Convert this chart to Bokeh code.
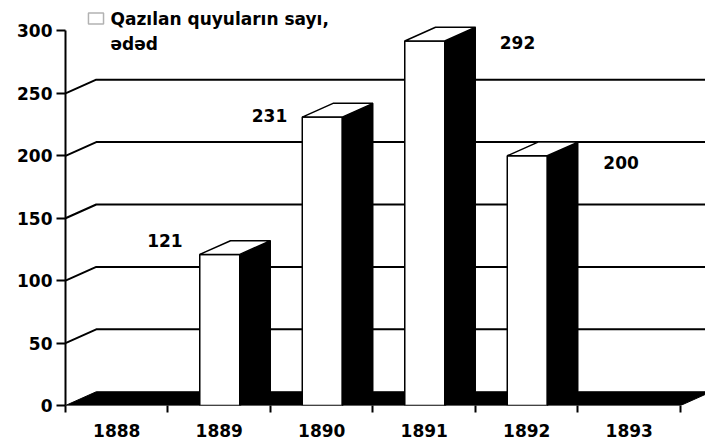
from bokeh.plotting import figure
from bokeh.models import Range1d, FixedTicker, Label, BoxAnnotation, ColumnDataSource
from bokeh.core.properties import value
from bokeh.embed import file_html
from bokeh.resources import INLINE

# ---- data ----
years = ["1888", "1889", "1890", "1891", "1892", "1893"]
wells = [0, 121, 231, 292, 200, 0]
y_ticks = [0, 50, 100, 150, 200, 250, 300]
legend_text = "Qazılan quyuların sayı,\nədəd"

# ---- style / geometry constants ----
FONT = "DejaVu Sans"
FS = "17px"
BAR_L, BAR_R = 0.31, 0.70      # front face inside each category slot
DX, DZ = 0.30, 11.0            # 3-D depth offset (x in categories, y in value units)
label_off = {1: (-0.03, 11), 2: (-0.01, 1), 3: (1.41, -1), 4: (1.42, -5)}

n = len(years)
p = figure(width=705, height=439, output_backend="svg", toolbar_location=None,
           x_range=Range1d(0, 6.244), y_range=Range1d(0, 324.4),
           min_border_left=65, min_border_right=0, min_border_top=0,
           min_border_bottom=27)
p.outline_line_color = None
p.xgrid.visible = False
p.ygrid.visible = False
p.background_fill_color = "white"

# floor
p.patch([0, n, n + DX, DX], [0, 0, DZ, DZ], fill_color="black", line_color="black")

# back-wall gridlines
grid_vals = [v for v in y_ticks if 0 < v < max(y_ticks)]
p.multi_line(xs=[[0, DX, n + 1] for v in grid_vals],
             ys=[[v, v + DZ, v + DZ] for v in grid_vals],
             line_color="black", line_width=2)

# bars
idx = [i for i, v in enumerate(wells) if v > 0]
vals = [wells[i] for i in idx]
fl = [i + BAR_L for i in idx]
fr = [i + BAR_R for i in idx]
p.quad(left=fl, right=fr, bottom=[0] * len(idx), top=vals,
       fill_color="white", line_color="black", line_width=1.5)
p.patches(xs=[[r, r + DX, r + DX, r] for r in fr],
          ys=[[0, DZ, v + DZ, v] for v in vals],
          fill_color="black", line_color="black", line_width=1)
p.patches(xs=[[l, r, r + DX, l + DX] for l, r in zip(fl, fr)],
          ys=[[v, v, v + DZ, v + DZ] for v in vals],
          fill_color="white", line_color="black", line_width=1.5)

# value labels
src = ColumnDataSource(dict(
    x=[i + label_off[i][0] for i in idx],
    y=[wells[i] + label_off[i][1] for i in idx],
    t=[str(wells[i]) for i in idx]))
p.text(x="x", y="y", text="t", source=src, text_align="center",
       text_baseline="middle", text_font=value(FONT), text_font_style="bold",
       text_font_size=FS, text_color="black")

# y axis
ya = p.yaxis[0]
ya.ticker = FixedTicker(ticks=y_ticks)
ya.bounds = (0, max(y_ticks))
ya.axis_line_width = 2
ya.axis_line_color = "black"
ya.major_tick_out = 9
ya.major_tick_in = 0
ya.major_tick_line_width = 2
ya.minor_tick_out = 0
ya.minor_tick_in = 0
ya.major_label_standoff = 4
ya.major_label_text_font = FONT
ya.major_label_text_font_style = "bold"
ya.major_label_text_font_size = FS
ya.major_label_text_color = "black"

# x axis
xa = p.xaxis[0]
centers = [i + 0.5 for i in range(n)]
xa.ticker = FixedTicker(ticks=centers, minor_ticks=list(range(n + 1)))
xa.major_label_overrides = {c: y for c, y in zip(centers, years)}
xa.axis_line_color = None
xa.major_tick_out = 0
xa.major_tick_in = 0
xa.minor_tick_out = 7
xa.minor_tick_in = 0
xa.minor_tick_line_width = 2
xa.minor_tick_line_color = "black"
xa.major_label_standoff = 11
xa.major_label_text_font = FONT
xa.major_label_text_font_style = "bold"
xa.major_label_text_font_size = FS
xa.major_label_text_color = "black"

# legend (manual)
p.add_layout(BoxAnnotation(left=0.224, right=0.371, bottom=305.5, top=314.4,
                           fill_color="white", fill_alpha=1, line_color="black",
                           line_width=1.5))
p.add_layout(Label(x=0.439, y=317.3, text=legend_text, text_baseline="top",
                   text_align="left", text_font=FONT, text_font_style="bold",
                   text_font_size=FS, text_color="black", text_line_height=1.25))

open("out.html", "w").write(file_html(p, INLINE))
